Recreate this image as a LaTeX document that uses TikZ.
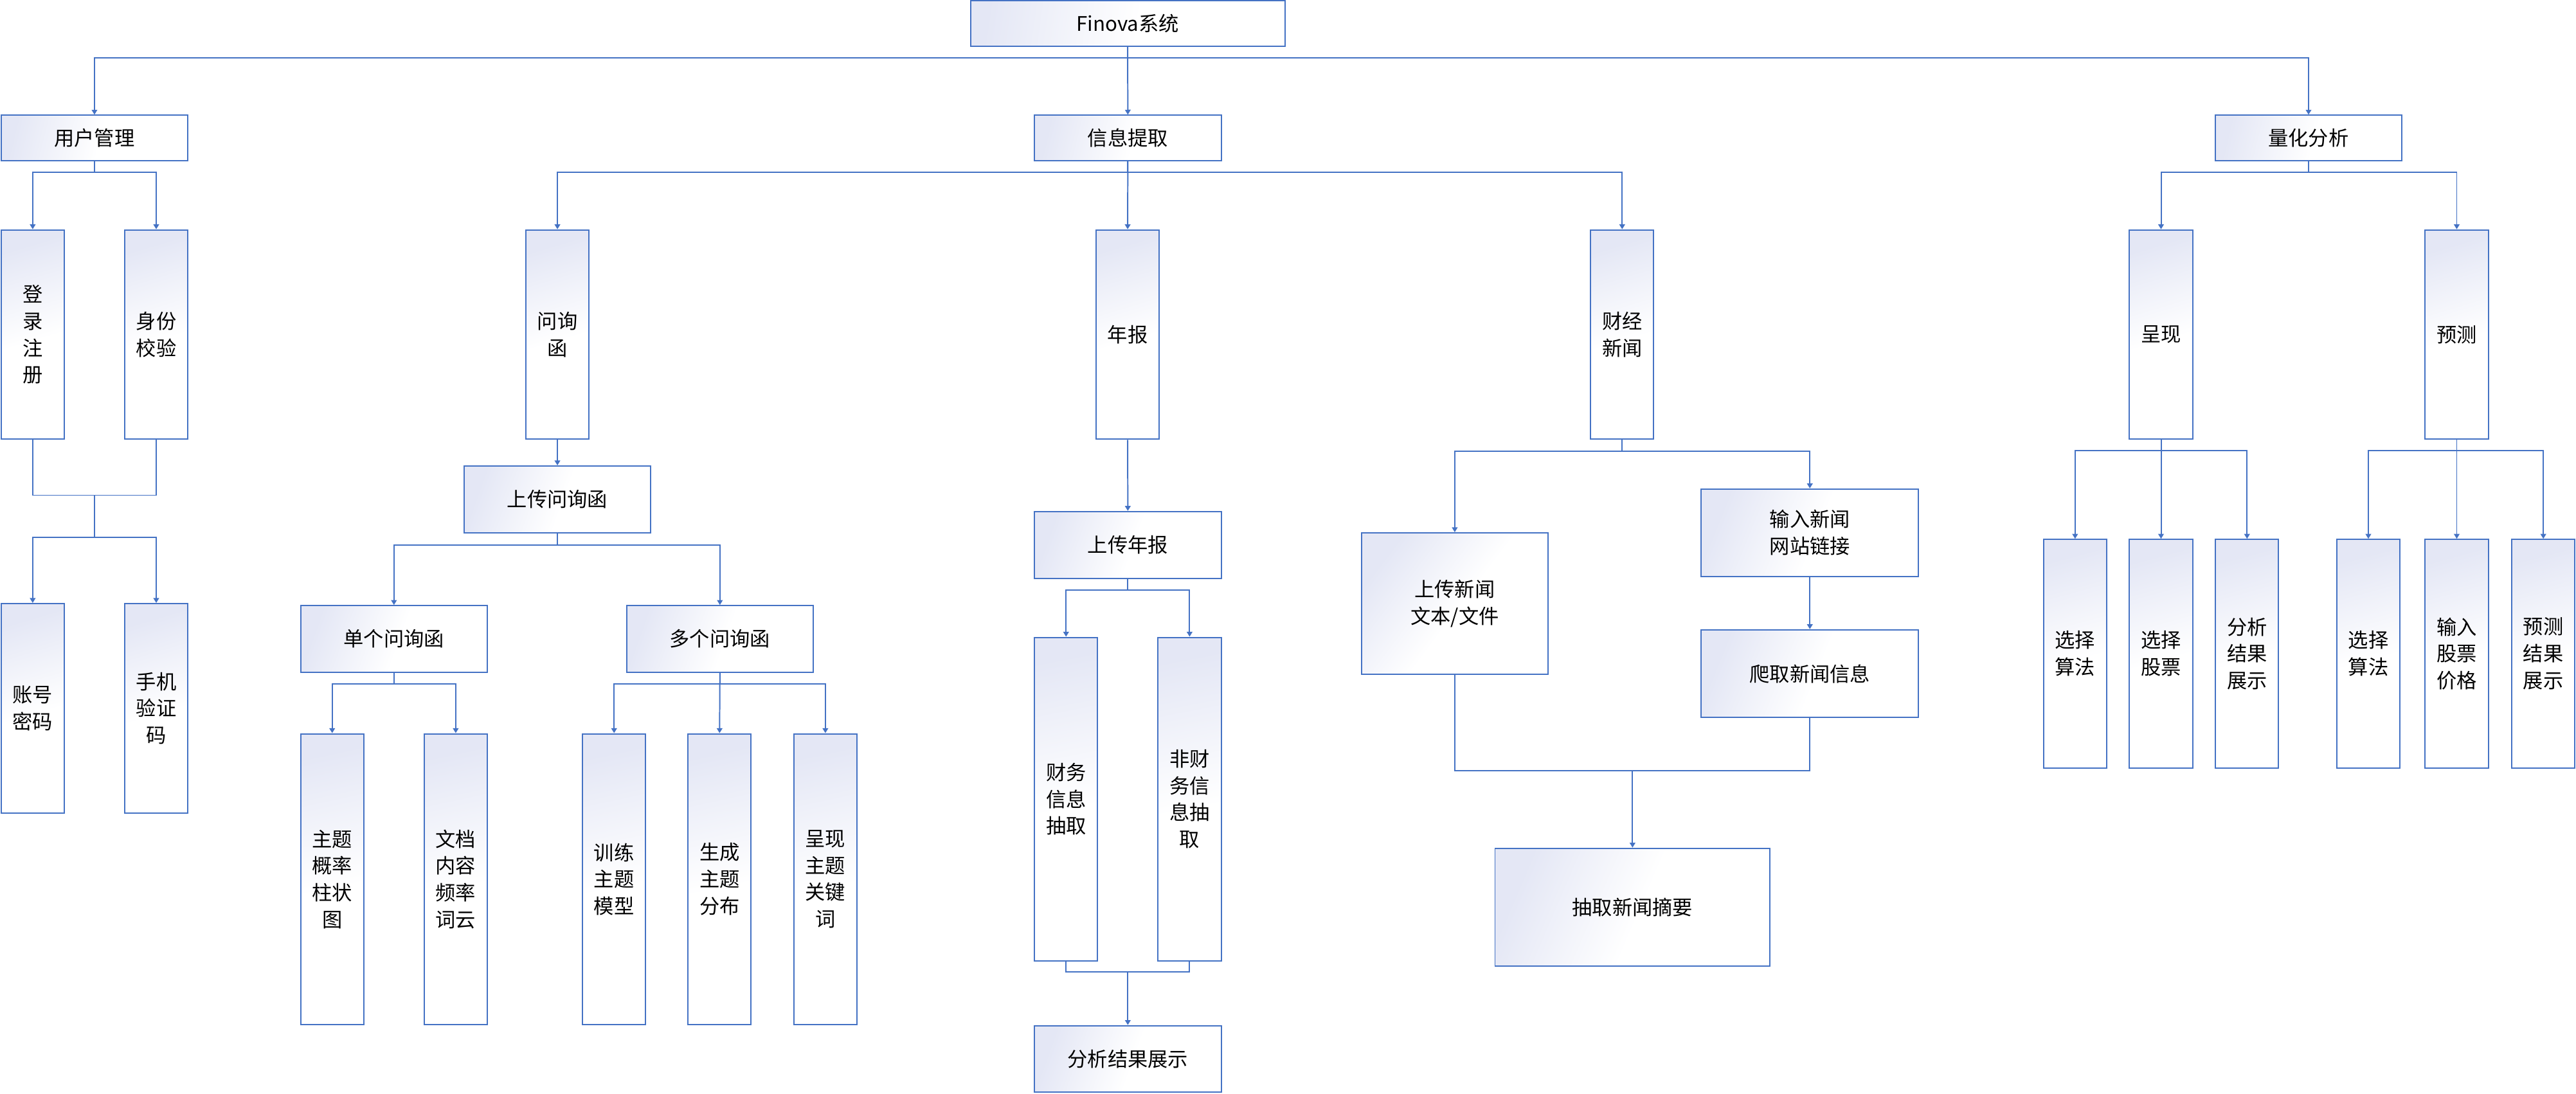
\documentclass[tikz,border=0pt]{standalone}
\usepackage{fontspec}
\setmainfont{Noto Sans CJK SC}
\usetikzlibrary{arrows.meta}

\definecolor{lineblue}{RGB}{68,114,196}
\definecolor{lav}{RGB}{228,231,245}

% soft lavender-to-white fill used by every box
\pgfdeclareverticalshading{boxgrad}{100bp}{color(0bp)=(white); color(48bp)=(white); color(75bp)=(lav); color(100bp)=(lav)}

\begin{document}
\begin{tikzpicture}[x=0.025cm, y=-0.025cm,
  box/.style={draw=lineblue, line width=0.55pt, shading=boxgrad, inner sep=0pt,
    align=center, font=\fontsize{8.7}{11.6}\selectfont},
  sz/.style 2 args={minimum width=#1*0.025cm, minimum height=#2*0.025cm},
  % box shapes; the shading runs along each box's diagonal
  rootbox/.style={box, sz={191.4}{27.6}, shading angle=81.8},
  headbox/.style={box, sz={113.8}{27.6}, shading angle=76.4},
  colbox/.style={box, sz={38.4}{127.5}, shading angle=16.8},
  midbox/.style={box, sz={113.7}{40.6}, shading angle=70.3},
  longbox/.style={box, sz={38.4}{177.1}, shading angle=12.2},
  finbox/.style={box, sz={38.5}{197}, shading angle=11.1},
  quantbox/.style={box, sz={38.4}{139.1}, shading angle=15.4},
  conn/.style={draw=lineblue, line width=0.55pt},
  arr/.style={conn, -{Triangle[width=0.085cm,length=0.075cm]}}]

\useasboundingbox (0,0) rectangle (1568,666);

% ---- top levels
\node[rootbox] (root) at (686.4,14.2) {Finova系统};
\node[headbox] (um) at (57.5,84) {用户管理};
\node[headbox] (xx) at (686.5,84) {信息提取};
\node[headbox] (lh) at (1405.2,84) {量化分析};

% ---- user management
\node[colbox] (dl) at (19.9,203.7) {登\\录\\注\\册};
\node[colbox] (sf) at (95.1,203.7) {身份\\校验};
\node[colbox] (zhmm) at (19.9,431.2) {账号\\密码};
\node[colbox] (sjyzm) at (95.1,431.2) {手机\\验证\\码};

% ---- information extraction: inquiry letters
\node[colbox] (wxh) at (339.3,203.7) {问询\\函};
\node[midbox] (scwxh) at (339.3,304) {上传问询函};
\node[midbox] (dg) at (239.8,389) {单个问询函};
\node[midbox] (dgw) at (438.2,389) {多个问询函};
\node[longbox] (ztgl) at (202.2,535.25) {主题\\概率\\柱状\\图};
\node[longbox] (wdnr) at (277.4,535.25) {文档\\内容\\频率\\词云};
\node[longbox] (xlzt) at (373.8,535.25) {训练\\主题\\模型};
\node[longbox] (sczt) at (438,535.25) {生成\\主题\\分布};
\node[longbox] (cxzt) at (502.4,535.25) {呈现\\主题\\关键\\词};

% ---- information extraction: annual reports
\node[colbox] (nb) at (686.4,203.7) {年报};
\node[midbox] (scnb) at (686.5,331.7) {上传年报};
\node[finbox] (cwxx) at (648.9,486.5) {财务\\信息\\抽取};
\node[finbox] (fcw) at (724.1,486.5) {非财\\务信\\息抽\\取};
\node[midbox] (fxjg) at (686.5,644.7) {分析结果展示};

% ---- information extraction: financial news
\node[colbox] (cjxw) at (987.4,203.7) {财经\\新闻};
\node[box, sz={113.7}{85.9}, shading angle=52.9] (scxw) at (885.5,367.35) {上传新闻\\文本/文件};
\node[box, sz={132.1}{53.3}, shading angle=68] (srxw) at (1101.65,324.35) {输入新闻\\网站链接};
\node[box, sz={132.1}{53.4}, shading angle=68] (pqxw) at (1101.65,410.1) {爬取新闻信息};
\node[box, sz={167.4}{71.6}, shading angle=66.8] (cqzy) at (993.7,552.2) {抽取新闻摘要};

% ---- quantitative analysis
\node[colbox] (cx) at (1315.4,203.7) {呈现};
\node[colbox] (yc) at (1495.4,203.7) {预测};
\node[quantbox] (xzsfa) at (1263.1,397.95) {选择\\算法};
\node[quantbox] (xzgp) at (1315.4,397.95) {选择\\股票};
\node[quantbox] (fxzs) at (1367.75,397.95) {分析\\结果\\展示};
\node[quantbox] (xzsfb) at (1441.6,397.95) {选择\\算法};
\node[quantbox] (srgp) at (1495.4,397.95) {输入\\股票\\价格};
\node[quantbox] (ycjg) at (1548.1,397.95) {预测\\结果\\展示};

% ---- connectors
\draw[arr] (root.south) -- ++(0,6.8) -| (um.north);
\draw[arr] (root.south) -- (xx.north);
\draw[arr] (root.south) -- ++(0,6.8) -| (lh.north);

\draw[arr] (um.south) -- ++(0,6.8) -| (dl.north);
\draw[arr] (um.south) -- ++(0,6.8) -| (sf.north);
\coordinate (umj) at (57.5,301.5);
\draw[conn] (dl.south) |- (umj);
\draw[conn] (sf.south) |- (umj);
\draw[arr] (umj) -- ++(0,25.6) -| (zhmm.north);
\draw[arr] (umj) -- ++(0,25.6) -| (sjyzm.north);

\draw[arr] (xx.south) -- ++(0,6.7) -| (wxh.north);
\draw[arr] (xx.south) -- (nb.north);
\draw[arr] (xx.south) -- ++(0,6.7) -| (cjxw.north);

\draw[arr] (wxh.south) -- (scwxh.north);
\draw[arr] (scwxh.south) -- ++(0,7) -| (dg.north);
\draw[arr] (scwxh.south) -- ++(0,7) -| (dgw.north);
\draw[arr] (dg.south) -- ++(0,6.5) -| (ztgl.north);
\draw[arr] (dg.south) -- ++(0,6.5) -| (wdnr.north);
\draw[arr] (dgw.south) -- ++(0,6.5) -| (xlzt.north);
\draw[arr] (dgw.south) -- (sczt.north);
\draw[arr] (dgw.south) -- ++(0,6.5) -| (cxzt.north);

\draw[arr] (nb.south) -- (scnb.north);
\draw[arr] (scnb.south) -- ++(0,6.8) -| (cwxx.north);
\draw[arr] (scnb.south) -- ++(0,6.8) -| (fcw.north);
\coordinate (nbj) at (686.5,591.6);
\draw[conn] (cwxx.south) |- (nbj);
\draw[conn] (fcw.south) |- (nbj);
\draw[arr] (nbj) -- (fxjg.north);

\draw[arr] (cjxw.south) -- ++(0,6.8) -| (scxw.north);
\draw[arr] (cjxw.south) -- ++(0,6.8) -| (srxw.north);
\draw[arr] (srxw.south) -- (pqxw.north);
\coordinate (xwj) at (993.7,469);
\draw[conn] (scxw.south) |- (xwj);
\draw[conn] (pqxw.south) |- (xwj);
\draw[arr] (xwj) -- (cqzy.north);

\draw[arr] (lh.south) -- ++(0,6.6) -| (cx.north);
\draw[arr] (lh.south) -- ++(0,6.6) -| (yc.north);
\draw[arr] (cx.south) -- ++(0,6.5) -| (xzsfa.north);
\draw[arr] (cx.south) -- (xzgp.north);
\draw[arr] (cx.south) -- ++(0,6.5) -| (fxzs.north);
\draw[arr] (yc.south) -- ++(0,6.5) -| (xzsfb.north);
\draw[arr] (yc.south) -- (srgp.north);
\draw[arr] (yc.south) -- ++(0,6.5) -| (ycjg.north);
\end{tikzpicture}
\end{document}
